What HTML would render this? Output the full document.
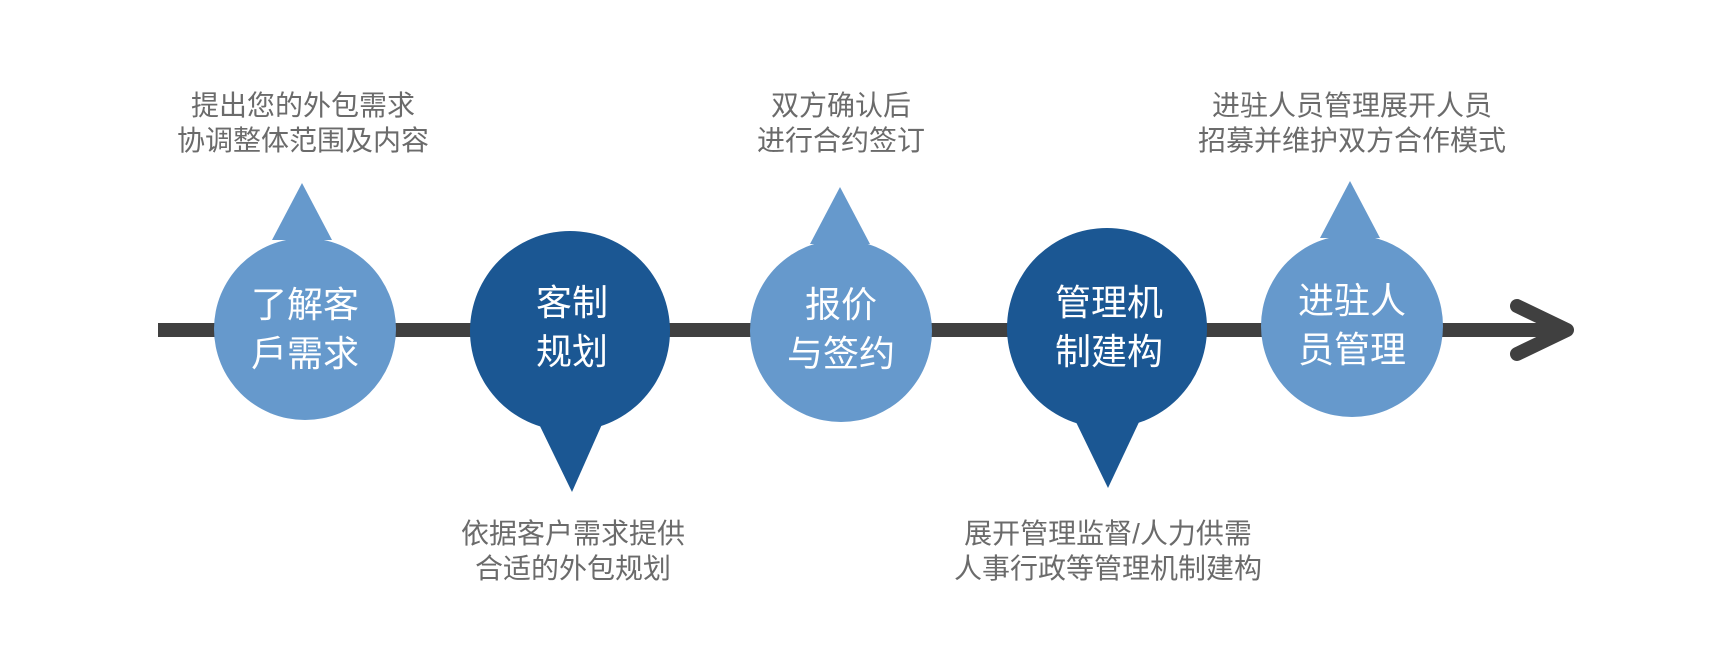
<!DOCTYPE html>
<html><head><meta charset="utf-8"><style>
html,body{margin:0;padding:0;background:#fff;}
svg text{font-family:"Liberation Sans","Noto Sans CJK SC",sans-serif;}
</style></head><body>
<svg width="1716" height="667" viewBox="0 0 1716 667" xmlns="http://www.w3.org/2000/svg">
<rect x="158" y="323" width="1400" height="14" fill="#404040"/>
<polyline points="1517,306 1567,330 1517,354" fill="none" stroke="#404040" stroke-width="14" stroke-linecap="round" stroke-linejoin="round"/>
<g fill="#6699cc">
<circle cx="305" cy="329" r="91"/><polygon points="302,183 272,240 332,240"/>
<circle cx="841" cy="331" r="91"/><polygon points="840,187 810,244 870,244"/>
<circle cx="1352" cy="326" r="91"/><polygon points="1350,181 1320,238 1380,238"/>
</g>
<g fill="#1b5793">
<circle cx="570" cy="331" r="100"/><polygon points="538,422 603,422 572,492"/>
<circle cx="1107" cy="328" r="100"/><polygon points="1075,420 1140,420 1108,488"/>
</g>
<g fill="#fff" font-size="36" text-anchor="middle">
<text x="305" y="317">了解客</text><text x="305" y="366">戶需求</text>
<text x="572" y="315">客制</text><text x="572" y="364">规划</text>
<text x="841" y="317">报价</text><text x="841" y="366">与签约</text>
<text x="1109" y="315">管理机</text><text x="1109" y="364">制建构</text>
<text x="1352" y="313">进驻人</text><text x="1352" y="362">员管理</text>
</g>
<g fill="#6b6b6b" font-size="28" text-anchor="middle">
<text x="303" y="115">提出您的外包需求</text><text x="303" y="150">协调整体范围及内容</text>
<text x="841" y="115">双方确认后</text><text x="841" y="150">进行合约签订</text>
<text x="1352" y="115">进驻人员管理展开人员</text><text x="1352" y="150">招募并维护双方合作模式</text>
<text x="573" y="543">依据客户需求提供</text><text x="573" y="578">合适的外包规划</text>
<text x="1108" y="543">展开管理监督/人力供需</text><text x="1108" y="578">人事行政等管理机制建构</text>
</g>
</svg>
</body></html>
